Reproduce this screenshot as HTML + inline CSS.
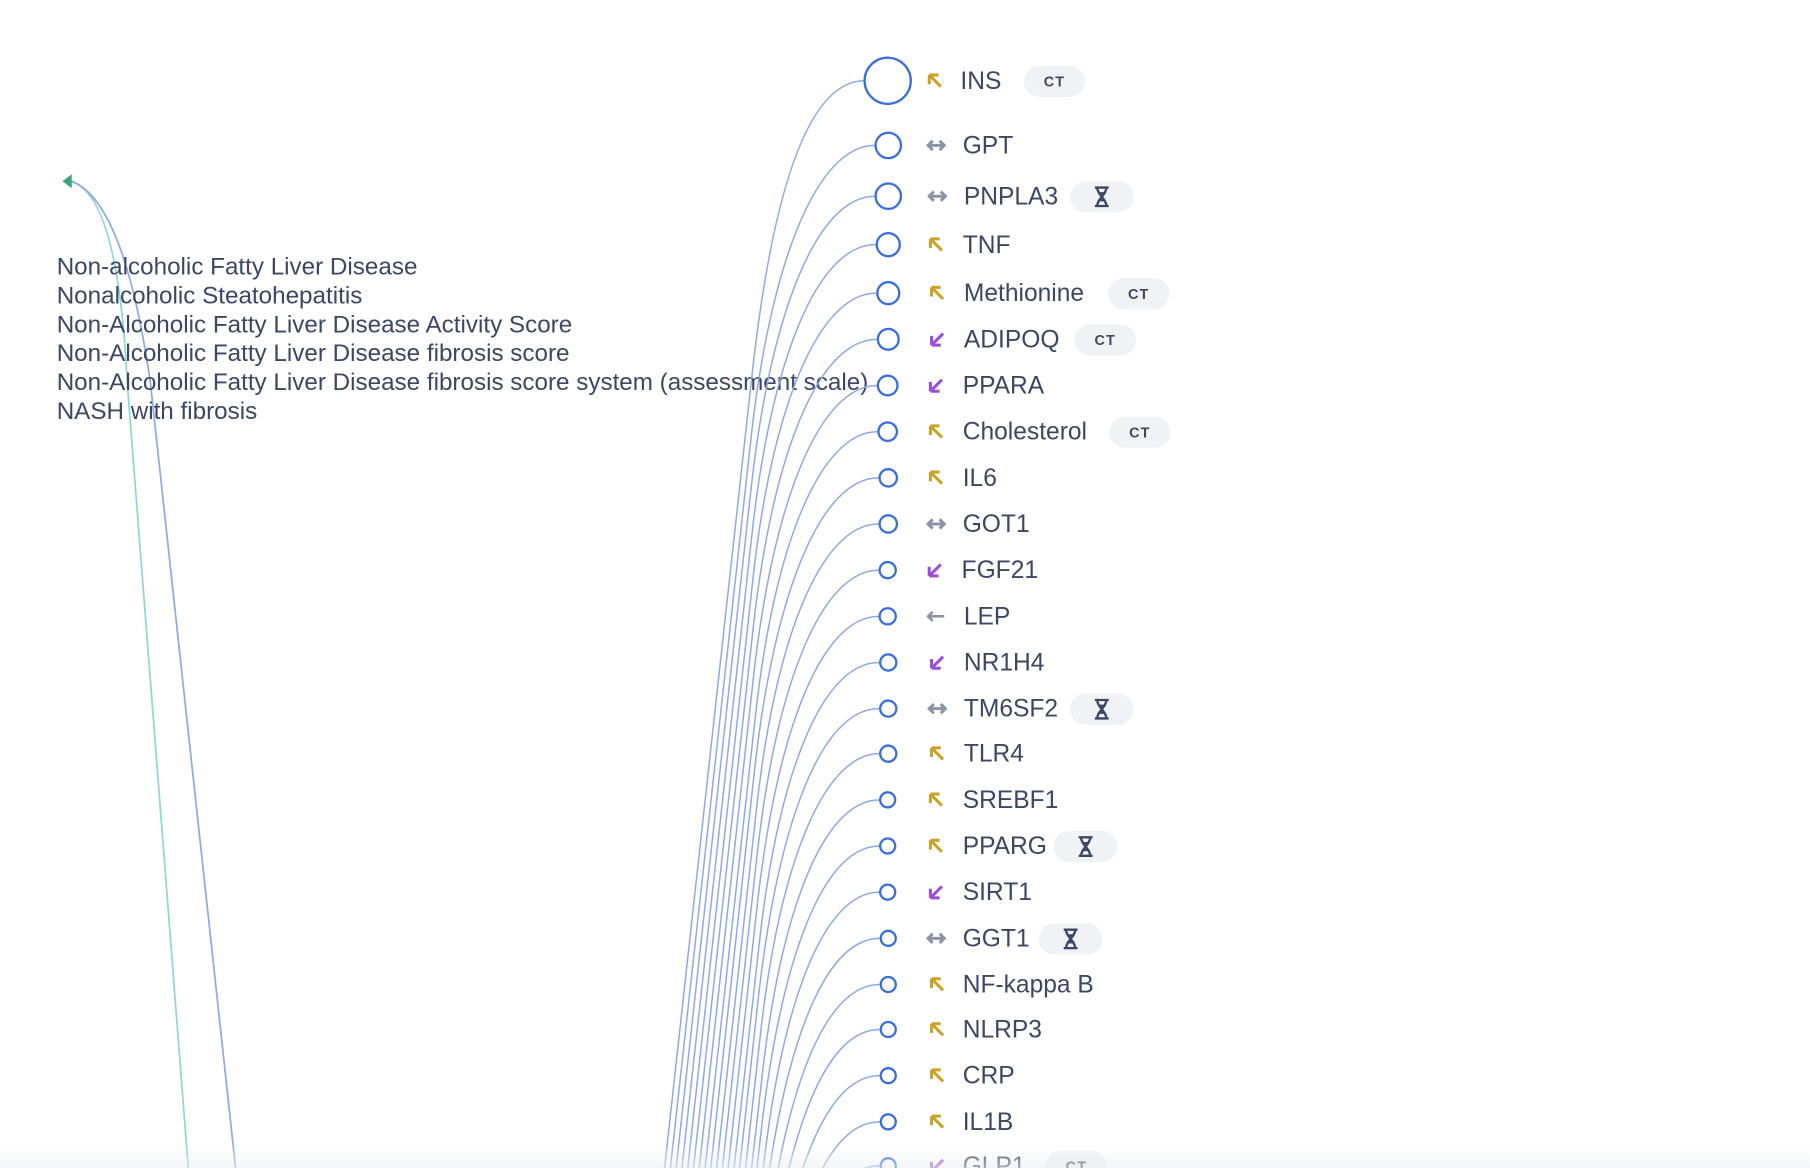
<!DOCTYPE html>
<html><head><meta charset="utf-8"><style>
html,body{margin:0;padding:0;background:#fff;width:1810px;height:1168px;overflow:hidden}
svg{display:block;overflow:hidden}
text{font-family:"Liberation Sans",Arial,sans-serif}
.l{font-size:21.3px;fill:#3b4763;font-weight:500}
.t{font-size:21px;fill:#3b4763}
.b{font-size:12.5px;font-weight:700;fill:#3b4763;letter-spacing:1px}
.c{fill:#fff;stroke:#3a6fd8;stroke-width:2}
.p{fill:none;stroke:#8fa9e6;stroke-width:1.3}
</style></head><body>
<svg width="1810" height="1168" viewBox="0 0 1568 1012" xmlns="http://www.w3.org/2000/svg">
<defs>
<linearGradient id="g" x1="0" y1="0" x2="0" y2="1"><stop offset="0" stop-color="#f2f3f5" stop-opacity="0"/><stop offset="1" stop-color="#eceef1" stop-opacity="0.6"/></linearGradient>
<g id="up"><path d="M-5 -5 L5 5 M-5 -5 H3 M-5 -5 V3" stroke="#c9a227" stroke-width="2.6" fill="none"/></g>
<g id="dn"><path d="M5 -5 L-5 5 M-5 5 H3 M-5 5 V-3" stroke="#9b4dd6" stroke-width="2.6" fill="none"/></g>
<g id="bo"><path d="M-7 0 H7 M-3 -4 L-7 0 L-3 4 M3 -4 L7 0 L3 4" stroke="#8a94a6" stroke-width="2.6" fill="none"/></g>
<g id="le"><path d="M-7 0 H7 M-3 -4 L-7 0 L-3 4" stroke="#8a94a6" stroke-width="2.2" fill="none"/></g>
<g id="hg"><path d="M-6 -8 H6 M-6 8 H6 M-4 -8 C-4 -2 4 2 4 8 M4 -8 C4 -2 -4 2 -4 8 M-2 -3 H2 M-2 3 H2" stroke="#3b4763" stroke-width="2" fill="none"/></g>
</defs>

<path d="M60 157 C 85 162, 104 210, 110 330 L 163 1012" fill="none" stroke="#8fd6d6" stroke-width="1.5"/>
<path d="M62 157 C 95 170, 116 235, 130 330 L 204 1012" fill="none" stroke="#8fa9e6" stroke-width="1.5"/>
<polygon points="54,157 62,151 62,163" fill="#3aa57a"/>

<text class="t" x="49" y="238">Non-alcoholic Fatty Liver Disease</text>
<text class="t" x="49" y="263">Nonalcoholic Steatohepatitis</text>
<text class="t" x="49" y="288">Non-Alcoholic Fatty Liver Disease Activity Score</text>
<text class="t" x="49" y="313">Non-Alcoholic Fatty Liver Disease fibrosis score</text>
<text class="t" x="49" y="338">Non-Alcoholic Fatty Liver Disease fibrosis score system (assessment scale)</text>
<text class="t" x="49" y="363">NASH with fibrosis</text>

<path class="p" d="M749 70 C699 70,669 170,652 320 L566 1100"/>
<path class="p" d="M758 126 C708 126,668 226,651 376 L571 1100"/>
<path class="p" d="M758 170 C708 170,668 270,651 420 L576 1100"/>
<path class="p" d="M758.5 212 C708 212,668 312,651.5 462 L581 1100"/>
<path class="p" d="M759 254 C709 254,668 354,652 504 L586 1100"/>
<path class="p" d="M759.5 294 C709 294,669 394,652.5 544 L591 1100"/>
<path class="p" d="M760 334 C710 334,670 434,653 584 L596 1100"/>
<path class="p" d="M760.5 374 C710 374,670 474,654 624 L601 1100"/>
<path class="p" d="M761 414 C711 414,671 514,654 664 L606 1100"/>
<path class="p" d="M761 454 C711 454,671 554,655 704 L611 1100"/>
<path class="p" d="M761.5 494 C711 494,672 594,655.5 744 L616 1100"/>
<path class="p" d="M761.5 534 C711 534,673 634,656 784 L621 1100"/>
<path class="p" d="M761.5 574 C711 574,673 674,657 824 L626 1100"/>
<path class="p" d="M761.5 614 C711 614,674 714,657 864 L631 1100"/>
<path class="p" d="M762 653 C712 653,674 753,658 903 L636 1100"/>
<path class="p" d="M762 693 C712 693,675 793,659 943 L641 1100"/>
<path class="p" d="M762 733 C712 733,676 833,659 983 L646 1100"/>
<path class="p" d="M762 773 C712 773,676 873,660 1023 L651 1100"/>
<path class="p" d="M762 813 C712 813,677 913,660 1063 L656 1100"/>
<path class="p" d="M762 853 C712 853,677 953,661 1103"/>
<path class="p" d="M762 892 C712 892,678 992,662 1142"/>
<path class="p" d="M762 932 C712 932,679 1032,662 1182"/>
<path class="p" d="M762 972 C712 972,679 1072,663 1222"/>
<path class="p" d="M762 1010 C712 1010,680 1110,664 1260"/>

<circle class="c" cx="769" cy="70" r="20"/>
<circle class="c" cx="769.5" cy="126" r="11"/>
<circle class="c" cx="769.5" cy="170" r="11"/>
<circle class="c" cx="769.5" cy="212" r="10"/>
<circle class="c" cx="769.5" cy="254" r="9.5"/>
<circle class="c" cx="769.5" cy="294" r="9"/>
<circle class="c" cx="769" cy="334" r="8.5"/>
<circle class="c" cx="769" cy="374" r="8"/>
<circle class="c" cx="769.5" cy="414" r="7.5"/>
<circle class="c" cx="769.5" cy="454" r="7.5"/>
<circle class="c" cx="769" cy="494" r="7"/>
<circle class="c" cx="769" cy="534" r="7"/>
<circle class="c" cx="769.5" cy="574" r="7"/>
<circle class="c" cx="769.5" cy="614" r="7"/>
<circle class="c" cx="769.5" cy="653" r="7"/>
<circle class="c" cx="769" cy="693" r="6.5"/>
<circle class="c" cx="769" cy="733" r="6.5"/>
<circle class="c" cx="769" cy="773" r="6.5"/>
<circle class="c" cx="769.5" cy="813" r="6.5"/>
<circle class="c" cx="769.5" cy="853" r="6.5"/>
<circle class="c" cx="769.5" cy="892" r="6.5"/>
<circle class="c" cx="769.5" cy="932" r="6.5"/>
<circle class="c" cx="769.5" cy="972" r="6.5"/>
<circle class="c" cx="769.5" cy="1010" r="6.5"/>

<use href="#up" x="810" y="70"/>
<use href="#bo" x="811" y="126"/>
<use href="#bo" x="812" y="170"/>
<use href="#up" x="811" y="212"/>
<use href="#up" x="812" y="254"/>
<use href="#dn" x="812" y="294"/>
<use href="#dn" x="811" y="334"/>
<use href="#up" x="811" y="374"/>
<use href="#up" x="811" y="414"/>
<use href="#bo" x="811" y="454"/>
<use href="#dn" x="810" y="494"/>
<use href="#le" x="811" y="534"/>
<use href="#dn" x="812" y="574"/>
<use href="#bo" x="812" y="614"/>
<use href="#up" x="812" y="653"/>
<use href="#up" x="811" y="693"/>
<use href="#up" x="811" y="733"/>
<use href="#dn" x="811" y="773"/>
<use href="#bo" x="811" y="813"/>
<use href="#up" x="812" y="853"/>
<use href="#up" x="812" y="892"/>
<use href="#up" x="812" y="932"/>
<use href="#up" x="812" y="972"/>
<use href="#dn" x="812" y="1010"/>

<text class="l" x="832" y="77">INS</text>
<text class="l" x="834" y="133">GPT</text>
<text class="l" x="835" y="177">PNPLA3</text>
<text class="l" x="834" y="219">TNF</text>
<text class="l" x="835" y="261">Methionine</text>
<text class="l" x="835" y="301">ADIPOQ</text>
<text class="l" x="834" y="341">PPARA</text>
<text class="l" x="834" y="381">Cholesterol</text>
<text class="l" x="834" y="421">IL6</text>
<text class="l" x="834" y="461">GOT1</text>
<text class="l" x="833" y="501">FGF21</text>
<text class="l" x="835" y="541">LEP</text>
<text class="l" x="835" y="581">NR1H4</text>
<text class="l" x="835" y="621">TM6SF2</text>
<text class="l" x="835" y="660">TLR4</text>
<text class="l" x="834" y="700">SREBF1</text>
<text class="l" x="834" y="740">PPARG</text>
<text class="l" x="834" y="780">SIRT1</text>
<text class="l" x="834" y="820">GGT1</text>
<text class="l" x="834" y="860">NF-kappa B</text>
<text class="l" x="834" y="899">NLRP3</text>
<text class="l" x="834" y="939">CRP</text>
<text class="l" x="834" y="979">IL1B</text>
<text class="l" x="834" y="1017">GLP1</text>

<g fill="#f1f2f5">
<rect x="887" y="57" width="53" height="27" rx="13.5"/>
<rect x="927" y="157" width="55" height="27" rx="13.5"/>
<rect x="960" y="241" width="53" height="27" rx="13.5"/>
<rect x="931" y="281" width="53" height="27" rx="13.5"/>
<rect x="961" y="361" width="53" height="27" rx="13.5"/>
<rect x="927" y="601" width="55" height="27" rx="13.5"/>
<rect x="913" y="720" width="55" height="27" rx="13.5"/>
<rect x="900" y="800" width="55" height="27" rx="13.5"/>
<rect x="906" y="997" width="53" height="27" rx="13.5"/>
</g>
<text class="b" x="913.5" y="75" text-anchor="middle">CT</text>
<text class="b" x="986.5" y="259" text-anchor="middle">CT</text>
<text class="b" x="957.5" y="299" text-anchor="middle">CT</text>
<text class="b" x="987.5" y="379" text-anchor="middle">CT</text>
<text class="b" x="932.5" y="1015" text-anchor="middle">CT</text>
<use href="#hg" x="954.5" y="170.5"/>
<use href="#hg" x="954.5" y="614.5"/>
<use href="#hg" x="940.5" y="733.5"/>
<use href="#hg" x="927.5" y="813.5"/>

<rect x="0" y="990" width="1568" height="22" fill="url(#g)"/>
</svg>
</body></html>
